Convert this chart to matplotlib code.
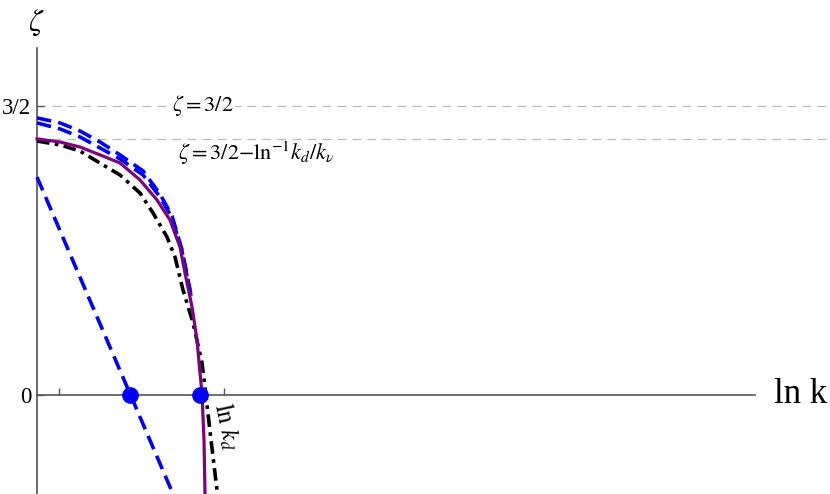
import matplotlib
matplotlib.use("Agg")
import matplotlib.pyplot as plt

plt.rcParams['font.family'] = ['Liberation Serif', 'DejaVu Serif']
plt.rcParams['mathtext.fontset'] = 'stix'

# --- data (x = ln k in arbitrary units, y = zeta) ---
purple_x = [0.0, 0.714, 1.335, 1.957, 2.578, 3.199, 3.727, 4.130, 4.441, 4.596, 4.814, 4.969, 5.062, 5.124, 5.186, 5.217]
purple_y = [1.329, 1.313, 1.287, 1.246, 1.204, 1.116, 1.012, 0.908, 0.768, 0.633, 0.457, 0.285, 0.114, 0.010, -0.234, -0.514]

black_x = [0.0, 0.714, 1.335, 2.050, 2.578, 3.199, 3.602, 4.037, 4.286, 4.534, 4.845, 5.124, 5.217, 5.404, 5.590]
black_y = [1.318, 1.298, 1.266, 1.194, 1.142, 1.048, 0.945, 0.820, 0.716, 0.545, 0.374, 0.166, 0.042, -0.234, -0.493]

blue_x = [0.0, 0.714, 1.335, 1.957, 2.578, 3.292, 3.820, 4.193, 4.503, 4.658, 4.783]
blueA_y = [1.438, 1.412, 1.370, 1.313, 1.246, 1.163, 1.043, 0.929, 0.753, 0.623, 0.519]
blueB_y = [1.412, 1.381, 1.339, 1.282, 1.225, 1.142, 1.028, 0.919, 0.747, 0.618, 0.514]

line_x = [0.0, 4.224]
line_y = [1.131, -0.514]

dots_x = [2.888, 5.062]
dots_y = [0.0, 0.0]

zeta_max = 1.5
zeta_corr = 1.328
ln_kd = 5.807
minor_tick = 0.683

fig = plt.figure(figsize=(8.3, 4.94), dpi=100)
ax = fig.add_axes([0, 0, 1, 1])
ax.set_xlim(-1.149, 24.627)
ax.set_ylim(-0.514, 2.050)

for s in ['top', 'right']:
    ax.spines[s].set_visible(False)
ax.spines['left'].set_position(('data', 0))
ax.spines['bottom'].set_position(('data', 0))
ax.spines['left'].set_bounds(-0.514, 1.801)
ax.spines['bottom'].set_bounds(0, 22.3)
for s in ['left', 'bottom']:
    ax.spines[s].set_color('#555555')
    ax.spines[s].set_linewidth(1.2)

ax.set_xticks([minor_tick, ln_kd])
ax.set_xticklabels([])
ax.set_yticks([0, zeta_max])
ax.set_yticklabels(['0', '3/2'], fontsize=16.5)
ax.tick_params(axis='both', direction='in', length=5, width=1, color='#555555', pad=4)

# gray reference lines
ax.plot([0, 24.627], [zeta_max, zeta_max], color='#bbbbbb', lw=0.9, dashes=(7, 5), zorder=1)
ax.plot([0, 24.627], [zeta_corr, zeta_corr], color='#bbbbbb', lw=0.9, dashes=(7, 5), zorder=1)

ax.text(4.19, zeta_max, r'$\zeta{=}3/2$', fontsize=16, va='center', ha='left',
        bbox=dict(facecolor='white', edgecolor='none', pad=1), zorder=2)
ax.text(4.38, 1.256, r'$\zeta{=}3/2{-}\mathrm{ln}^{-1}k_d/k_\nu$', fontsize=16, va='center', ha='left', zorder=2)

# curves
ax.plot(blue_x, blueA_y, color='#0000ff', lw=2.6, dashes=(4, 2), zorder=3)
ax.plot(blue_x, blueB_y, color='#0000ff', lw=2.6, dashes=(4, 2), zorder=3)
ax.plot(line_x, line_y, color='#0000ff', lw=2.6, dashes=(4, 2), zorder=3)
ax.plot(black_x, black_y, color='black', lw=2.6, dashes=(3.5, 1.5, 1, 1.5), zorder=4)
ax.plot(purple_x, purple_y, color='#800080', lw=2.3, zorder=5)
ax.plot(dots_x, dots_y, 'o', color='#0000ff', ms=11, zorder=6)

# labels
ax.text(22.9, 0.0, 'ln k', fontsize=25, va='center', ha='left')
ax.text(-0.03, 1.93, r'$\zeta$', fontsize=22, va='center', ha='center')
ax.text(5.745, -0.045, r'$\mathrm{ln}\ k_d$', fontsize=18, rotation=-78,
        rotation_mode='anchor', ha='left', va='center')

fig.savefig('out.png', dpi=100)
